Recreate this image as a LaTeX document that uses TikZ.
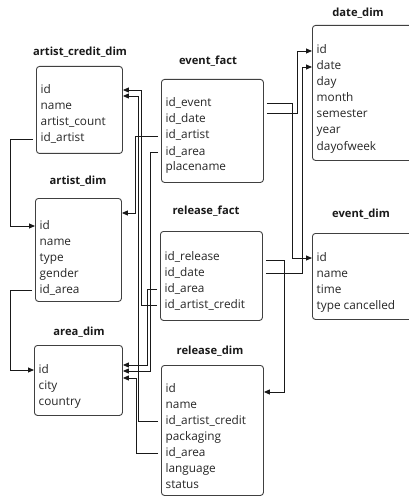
\documentclass[tikz,border=0pt]{standalone}
\usepackage{fontspec}
\setmainfont{Open Sans}
\usetikzlibrary{arrows.meta,calc}
\begin{document}
\begin{tikzpicture}[x=1pt,y=-1pt,
 box/.style={draw=black!75, line width=0.9pt, rounded corners=3pt, anchor=north west, inner sep=0pt},
 ttl/.style={font=\fontsize{11.2}{13}\selectfont\bfseries, inner sep=0pt, text=black!90},
 row/.style={font=\fontsize{11.8}{14}\selectfont, anchor=west, inner sep=0pt, text height=8pt, text depth=2pt, text=black!85},
 conn/.style={draw=black!90, line width=0.9pt, -{Triangle[length=6pt,width=5pt]}, shorten <=3pt},
]
\useasboundingbox (0,0) rectangle (408,497);

% ---------- boxes ----------
\node[box, minimum width=86pt, minimum height=87pt] (acd) at (36,66) {};
\node[box, minimum width=86pt, minimum height=103pt] (ad) at (35,198) {};
\node[box, minimum width=88pt, minimum height=70pt] (ar) at (34,345) {};
\node[box, minimum width=102pt, minimum height=103pt] (ef) at (161,79) {};
\node[box, minimum width=102pt, minimum height=89pt] (rf) at (160,231) {};
\node[box, minimum width=102pt, minimum height=130pt] (rd) at (161,365) {};
\node[box, minimum width=104pt, minimum height=135pt] (dd) at (312,25) {};
\node[box, minimum width=104pt, minimum height=86pt] (ed) at (312,233) {};

% ---------- titles ----------
\node[ttl] (acdT) at (80,52) {artist\_credit\_dim};
\node[ttl] (adT) at (78,181) {artist\_dim};
\node[ttl] (arT) at (79,332) {area\_dim};
\node[ttl] (efT) at (208,61) {event\_fact};
\node[ttl] (rfT) at (206,211) {release\_fact};
\node[ttl] (rdT) at (210,351) {release\_dim};
\node[ttl] (ddT) at (358,13) {date\_dim};
\node[ttl] (edT) at (361,214) {event\_dim};

% ---------- rows ----------
\node[row] (acd1) at (40.5,91) {id};
\node[row] (acd2) at (40.5,107) {name};
\node[row] (acd3) at (40.5,123) {artist\_count};
\node[row] (acd4) at (40.5,139) {id\_artist};

\node[row] (ad1) at (39.5,226) {id};
\node[row] (ad2) at (39.5,242) {name};
\node[row] (ad3) at (39.5,258) {type};
\node[row] (ad4) at (39.5,274) {gender};
\node[row] (ad5) at (39.5,290) {id\_area};

\node[row] (ar1) at (38.5,370) {id};
\node[row] (ar2) at (38.5,386) {city};
\node[row] (ar3) at (38.5,402) {country};

\node[row] (ef1) at (165.5,104) {id\_event};
\node[row] (ef2) at (165.5,120) {id\_date};
\node[row] (ef3) at (165.5,136) {id\_artist};
\node[row] (ef4) at (165.5,152) {id\_area};
\node[row] (ef5) at (165.5,168) {placename};

\node[row] (rf1) at (164.5,257) {id\_release};
\node[row] (rf2) at (164.5,273) {id\_date};
\node[row] (rf3) at (164.5,289) {id\_area};
\node[row] (rf4) at (164.5,305) {id\_artist\_credit};

\node[row] (rd1) at (165.5,389) {id};
\node[row] (rd2) at (165.5,405) {name};
\node[row] (rd3) at (165.5,421) {id\_artist\_credit};
\node[row] (rd4) at (165.5,437) {packaging};
\node[row] (rd5) at (165.5,453) {id\_area};
\node[row] (rd6) at (165.5,469) {language};
\node[row] (rd7) at (165.5,485) {status};

\node[row] (dd1) at (316.5,51) {id};
\node[row] (dd2) at (316.5,67) {date};
\node[row] (dd3) at (316.5,83) {day};
\node[row] (dd4) at (316.5,99) {month};
\node[row] (dd5) at (316.5,115) {semester};
\node[row] (dd6) at (316.5,131) {year};
\node[row] (dd7) at (316.5,147) {dayofweek};

\node[row] (ed1) at (316.5,258) {id};
\node[row] (ed2) at (316.5,274) {name};
\node[row] (ed3) at (316.5,290) {time};
\node[row] (ed4) at (316.5,306) {type cancelled};

% ---------- connectors: left side ----------
\draw[conn] (acd.west |- acd4.west) -- ++(-26,0) |- (ad.west |- ad1.west);
\draw[conn] (ad.west |- ad5.west) -- ++(-25,0) |- (ar.west |- ar1.west);

% ---------- connectors: middle ----------
\draw[conn] (ef.west |- ef3.west) -- ++(-26,0) |- ($(ad.north east)+(0,15)$);
\draw[conn] (rf.west |- rf4.west) -- ++(-19,0) |- ($(acd.north east)+(0,24)$);
\draw[conn] (rd.west |- rd3.west) -- ++(-23,0) |- ($(acd.north east)+(0,30)$);
\draw[conn] (ef.west |- ef4.west) -- ++(-11,0) |- ($(ar.north east)+(0,26)$);
\draw[conn] (rf.west |- rf3.west) -- ++(-13,0) |- ($(ar.north east)+(0,20)$);
\draw[conn] (rd.west |- rd5.west) -- ++(-25,0) |- ($(ar.north east)+(0,33)$);

% ---------- connectors: right side ----------
\draw[conn] ($(ef.east |- ef1.west)+(0,-1)$) -- ++(29,0) |- (ed.west |- ed1.west);
\draw[conn] ($(ef.east |- ef2.west)+(0,-7)$) -- ++(34,0) |- (dd.west |- dd1.west);
\draw[conn] ($(rf.east |- rf1.west)+(0,3)$) -- ++(22,0) |- ($(rd.north east)+(0,27)$);
\draw[conn] (rf.east |- rf2.west) -- ++(40,0) |- (dd.west |- dd2.west);
\end{tikzpicture}
\end{document}
